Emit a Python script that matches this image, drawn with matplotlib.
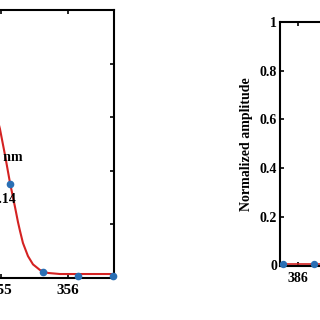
import matplotlib
matplotlib.use('Agg')
import matplotlib.pyplot as plt

plt.rcParams['font.family'] = ['Liberation Serif', 'DejaVu Serif']
plt.rcParams['font.weight'] = 'bold'

# left panel (cropped): fitted curve and measured points
left_curve_x = [354.90, 354.985, 355.060, 355.134, 355.209, 355.254, 355.284, 355.328,
                355.403, 355.478, 355.582, 355.701, 355.881, 356.20, 356.687]
left_curve_y = [0.64, 0.555, 0.458, 0.355, 0.264, 0.207, 0.174, 0.129,
                0.080, 0.049, 0.028, 0.017, 0.013, 0.013, 0.013]
left_pts_x = [355.13, 355.63, 356.15, 356.67]
left_pts_y = [0.35, 0.022, 0.007, 0.007]
left_xticks = [354, 355, 356]

# right panel (cropped): flat part only visible
right_curve_x = [385.60, 386.0, 386.5, 387.0]
right_curve_y = [0.008, 0.008, 0.008, 0.008]
right_pts_x = [385.75, 386.27]
right_pts_y = [0.005, 0.005]
right_xticks = [386, 387, 388, 389]

yticks = [0, 0.2, 0.4, 0.6, 0.8, 1.0]

red = '#d42222'
blue = '#2a6fb4'

W = H = 320.0
fig = plt.figure(figsize=(3.2, 3.2), dpi=100)

def style(ax):
    for s in ax.spines.values():
        s.set_linewidth(1.5)
    ax.tick_params(direction='in', top=True, right=True, length=3, width=1.2)
    ax.set_ylim(0, 1)
    ax.set_yticks(yticks)
    ax.set_yticklabels(['0', '0.2', '0.4', '0.6', '0.8', '1'])

# left axes: right spine at x=114, top y=10, bottom y=277.5
lw_px = 244
ax1 = fig.add_axes([(114 - lw_px) / W, 1 - 277.5 / H, lw_px / W, (277.5 - 10) / H])
style(ax1)
ax1.plot(left_curve_x, left_curve_y, color=red, lw=1.5, zorder=2)
ax1.plot(left_pts_x, left_pts_y, 'o', color=blue, ms=4.5, clip_on=False, zorder=3)
ax1.set_xlim(356.687 - lw_px / 67.0, 356.687)
ax1.set_xticks(left_xticks)
ax1.tick_params(axis='both', labelsize=11, pad=5)
ax1.text(355.328, 0.45, '\u03bb = 355.02 nm', ha='right', va='center', fontsize=10, fontweight='bold')
ax1.text(355.224, 0.293, '\u0394\u03bb = 0.14', ha='right', va='center', fontsize=10, fontweight='bold')

# right axes: left spine at x=280, top y=22, bottom y=265.5
rw_px = 250
ax2 = fig.add_axes([280 / W, 1 - 265.5 / H, rw_px / W, (265.5 - 22) / H])
style(ax2)
ax2.plot(right_curve_x, right_curve_y, color=red, lw=1.2, zorder=2)
ax2.plot(right_pts_x, right_pts_y, 'o', color=blue, ms=4.3, clip_on=False, zorder=3)
ax2.set_xlim(385.70, 385.70 + rw_px / 60.0)
ax2.set_xticks(right_xticks)
ax2.tick_params(axis='both', labelsize=10)
ax2.tick_params(axis='y', pad=2)
ax2.tick_params(axis='x', pad=5)
ax2.set_ylabel('Normalized amplitude', fontsize=10, fontweight='bold', labelpad=5)

fig.savefig('out.png', dpi=100)
